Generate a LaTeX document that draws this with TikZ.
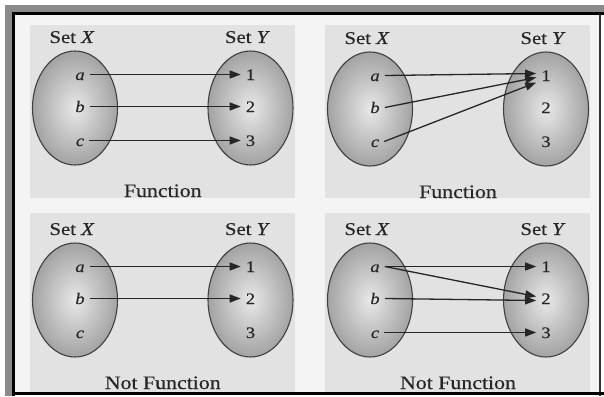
\documentclass[tikz,border=0pt]{standalone}
\usepackage{fontspec}
\setmainfont{Liberation Serif}[FakeStretch=1.15,FakeBold=0.4]
\usetikzlibrary{arrows.meta,shapes.geometric,calc}
\definecolor{panelgray}{HTML}{E2E2E2}
\definecolor{bggray}{HTML}{F4F4F4}
\definecolor{inkgray}{HTML}{262626}
\definecolor{bandgray}{HTML}{8A8A8A}
\tikzset{
  setblob/.style={ellipse, draw=black!75, line width=1.1pt, inner color=black!9, outer color=black!36, minimum width=85pt, minimum height=114pt},
  settitle/.style={font=\fontsize{18}{18}\selectfont, text=inkgray, inner sep=0pt, anchor=base},
  elem/.style={font=\fontsize{16}{16}\selectfont, text=inkgray, inner xsep=5pt, inner ysep=2pt, text height=11pt, text depth=0pt, anchor=base},
  captiontext/.style={font=\fontsize{19}{19}\selectfont, text=inkgray, inner sep=0pt, anchor=base},
  maparrow/.style={line width=1.3pt, black!85, -{Triangle[length=11pt,width=8pt]}},
}
% #1 prefix, #2 x of set X, #3 x of set Y, #4 y centre, #5 caption
\newcommand\fnpanel[5]{%
  \node[setblob] (#1X) at (#2,#4) {};
  \node[setblob] (#1Y) at (#3,#4) {};
  \node[settitle] (#1tx) at (#2-3,#4-65) {Set \textit{X}};
  \node[settitle] (#1ty) at (#3-3,#4-65) {Set \textit{Y}};
  \node[elem] (#1a) at (#2+5,#4-28) {\textit{a}};
  \node[elem] (#1b) at (#2+5,#4+4) {\textit{b}};
  \node[elem] (#1c) at (#2+5,#4+38) {\textit{c}};
  \node[elem] (#11) at (#3,#4-28) {1};
  \node[elem] (#12) at (#3,#4+4) {2};
  \node[elem] (#13) at (#3,#4+38) {3};
  \node[captiontext] (#1cap) at ({(#2+#3)/2},#4+89) {#5};
}
\begin{document}
\begin{tikzpicture}[x=1pt,y=-1pt]
  \useasboundingbox (0,0) rectangle (604,396);
  \fill[white] (0,0) rectangle (604,396);
  \fill[bggray] (15,15) rectangle (599,392);
  % frame
  \fill[bandgray] (5,5) rectangle (604,13);
  \fill[bandgray] (5,5) rectangle (12,396);
  \draw[black, line width=2.5pt] (13.5,396) -- (13.5,13.5) -- (604,13.5);
  \draw[black!80, line width=2pt] (599.5,15) -- (599.5,396);
  \draw[black, line width=3pt] (13.5,393.5) -- (604,393.5);
  % panels
  \fill[panelgray] (30,25) rectangle (295,198);
  \fill[panelgray] (325,25) rectangle (590,198);
  \fill[panelgray] (30,213) rectangle (295,392);
  \fill[panelgray] (325,213) rectangle (590,392);

  \fnpanel{tl}{75}{250.5}{108}{Function}
  \fnpanel{tr}{370}{546}{109}{Function}
  \fnpanel{bl}{75}{250.5}{300}{Not Function}
  \fnpanel{br}{370}{546}{300}{Not Function}

  % top left
  \draw[maparrow] (tla.east) -- (tl1.west);
  \draw[maparrow] (tlb.east) -- (tl2.west);
  \draw[maparrow] (tlc.east) -- (tl3.west);
  % top right
  \draw[maparrow] (tra.east) -- ($(tr1.west)+(0,-2)$);
  \draw[maparrow] (trb.east) -- ($(tr1.west)+(0,2)$);
  \draw[maparrow] (trc.east) -- ($(tr1.west)+(0,7)$);
  % bottom left
  \draw[maparrow] (bla.east) -- (bl1.west);
  \draw[maparrow] (blb.east) -- (bl2.west);
  % bottom right
  \draw[maparrow] (bra.east) -- (br1.west);
  \draw[maparrow] (bra.east) -- ($(br2.west)+(0,-2)$);
  \draw[maparrow] (brb.east) -- ($(br2.west)+(0,2)$);
  \draw[maparrow] (brc.east) -- (br3.west);
\end{tikzpicture}
\end{document}
